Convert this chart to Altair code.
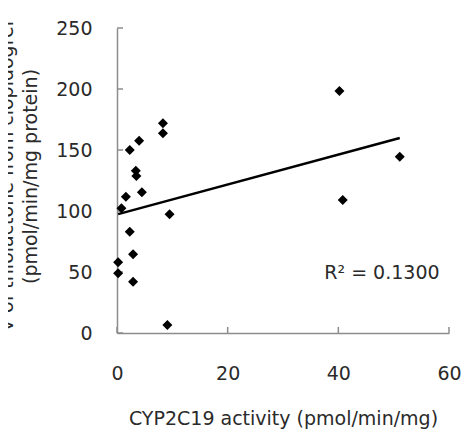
import altair as alt
import pandas as pd

# CYP2C19 activity (pmol/min/mg) and formation rate (pmol/min/mg protein)
activity = [8.3, 8.3, 4.0, 2.3, 3.4, 3.5, 1.6, 4.5, 0.8, 9.5, 2.3, 2.9, 0.2, 0.2, 2.9, 9.1, 40.2, 51.1, 40.8]
formation = [171.9, 163.7, 157.6, 150.0, 133.0, 128.7, 111.7, 115.3, 102.2, 97.3, 83.0, 64.5, 58.0, 49.0, 42.0, 6.6, 198.4, 144.5, 109.0]

x_ticks = [0, 20, 40, 60]
y_ticks = [0, 50, 100, 150, 200, 250]

r2_text = ["R² = 0.1300"]
r2_x = [58.3]
r2_y = [49]

x_title = "CYP2C19 activity (pmol/min/mg)"
y_title = ["V of thiolactone from clopidogrel", "(pmol/min/mg protein)"]

FONT = "DejaVu Sans"
GREY = "#8c8c8c"
TEXT = "#2a2a2a"
W, H = 332, 305

df = pd.DataFrame({"activity": activity, "formation": formation})
xs = alt.Scale(domain=[0, 60], nice=False, zero=False)
ys = alt.Scale(domain=[0, 250], nice=False, zero=False)

x_axis = alt.Axis(values=x_ticks, title=x_title, labelPadding=31, labelFlush=False,
                  titleY=91, titleBaseline="alphabetic")
y_axis = alt.Axis(values=y_ticks, title=y_title, labelPadding=25, labelFlush=False,
                  titleX=-105, titleY=148, titleAngle=270, titleAlign="center",
                  titleBaseline="alphabetic", titleLineHeight=24)


def X(f):
    return alt.X(f, type="quantitative", scale=xs, axis=x_axis)


def Y(f):
    return alt.Y(f, type="quantitative", scale=ys, axis=y_axis)


points = alt.Chart(df).mark_point(
    shape="diamond", filled=True, color="black", size=100, opacity=1
).encode(x=X("activity"), y=Y("formation"))

reg = alt.Chart(df).transform_regression("activity", "formation").mark_line(
    color="black", strokeWidth=2.5
).encode(x=X("activity"), y=Y("formation"))

xt = alt.Chart(pd.DataFrame({"t": x_ticks})).mark_rule(color=GREY, strokeWidth=1.5).encode(
    x=X("t"), y=alt.value(H), y2=alt.value(H - 6)
)
yt = alt.Chart(pd.DataFrame({"t": y_ticks})).mark_rule(color=GREY, strokeWidth=1.5).encode(
    y=Y("t"), x=alt.value(0), x2=alt.value(6)
)

label = alt.Chart(pd.DataFrame({"x": r2_x, "y": r2_y, "t": r2_text})).mark_text(
    align="right", baseline="middle", font=FONT, fontSize=19, color=TEXT
).encode(x=X("x"), y=Y("y"), text="t:N")

chart = alt.layer(xt, yt, reg, points, label).properties(
    width=W, height=H,
    padding={"left": 109, "top": 20, "right": 12, "bottom": 98},
    autosize=alt.AutoSizeParams(type="none"),
).configure_view(stroke=None).configure_axis(
    domainColor=GREY, domainWidth=1.5, ticks=False, grid=False,
    labelFont=FONT, labelFontSize=19, labelColor=TEXT,
    titleFont=FONT, titleFontSize=19, titleFontWeight="normal", titleColor=TEXT,
)

chart.save("out.html", embed_options={"renderer": "svg", "actions": False})
